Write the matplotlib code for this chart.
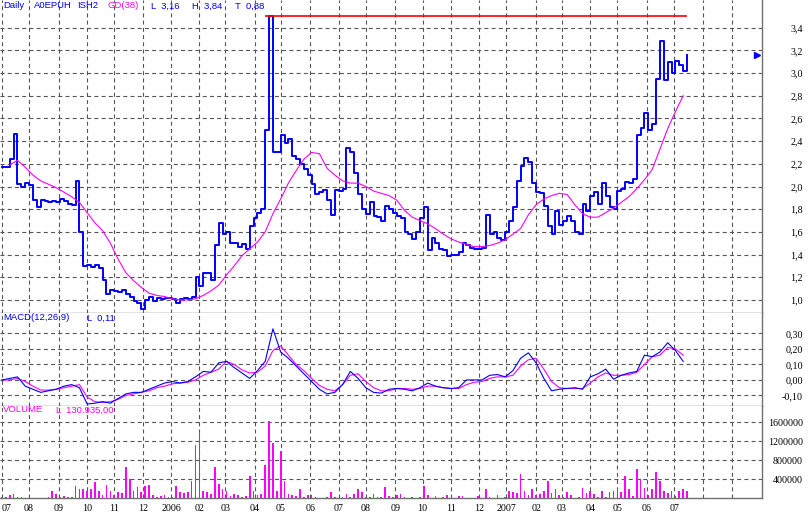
import numpy as np
import pandas as pd
import matplotlib
matplotlib.use("Agg")
import matplotlib.pyplot as plt
import matplotlib.transforms as mtransforms
from matplotlib.ticker import FuncFormatter

# ISH2 (A0EPUH), daily, Jul 2005 - Jul 2007
# close, one value every 3 trading days
price = [
    2.17, 2.17, 2.24, 2.46, 2.02, 2.00, 2.03, 2.01, 1.88, 1.82,
    1.88, 1.87, 1.86, 1.87, 1.86, 1.89, 1.87, 1.85, 1.84, 2.05,
    1.60, 1.30, 1.31, 1.29, 1.31, 1.28, 1.18, 1.05, 1.09, 1.08,
    1.07, 1.09, 1.05, 1.03, 0.99, 0.97, 0.92, 1.00, 1.03, 0.99,
    1.02, 1.01, 1.02, 1.02, 1.01, 0.97, 1.01, 1.02, 1.01, 1.03,
    1.20, 1.12, 1.24, 1.24, 1.18, 1.48, 1.68, 1.58, 1.60, 1.50,
    1.50, 1.47, 1.49, 1.45, 1.65, 1.72, 1.77, 1.80, 2.50, 3.50,
    2.30, 2.30, 2.45, 2.38, 2.42, 2.27, 2.24, 2.20, 2.15, 2.10,
    2.02, 1.93, 1.95, 1.97, 1.88, 1.75, 1.97, 1.96, 1.98, 2.34,
    2.30, 2.12, 1.93, 1.80, 1.76, 1.86, 1.74, 1.73, 1.70, 1.83,
    1.80, 1.77, 1.74, 1.72, 1.60, 1.58, 1.54, 1.60, 1.72, 1.82,
    1.44, 1.55, 1.50, 1.45, 1.44, 1.39, 1.40, 1.40, 1.42, 1.50,
    1.48, 1.46, 1.45, 1.45, 1.46, 1.75, 1.58, 1.60, 1.55, 1.53,
    1.60, 1.70, 1.82, 2.05, 2.18, 2.25, 2.22, 2.03, 1.95, 1.94,
    1.83, 1.65, 1.58, 1.78, 1.66, 1.70, 1.74, 1.70, 1.60, 1.58,
    1.85, 1.78, 1.92, 1.95, 1.85, 2.03, 1.92, 1.82, 1.80, 1.96,
    1.98, 2.04, 2.03, 2.07, 2.45, 2.52, 2.65, 2.50, 2.55, 2.95,
    3.28, 2.94, 3.10, 3.00, 3.11, 3.07, 3.02, 3.16,
]

# volume in thousands, same grid as price
volume_k = [
    20, 30, 60, 80, 20, 30, 10, 10, 10, 10,
    10, 10, 20, 140, 80, 15, 40, 20, 30, 250,
    180, 200, 150, 200, 330, 150, 60, 280, 150, 70,
    130, 110, 660, 400, 150, 230, 120, 250, 270, 60,
    20, 50, 70, 20, 20, 250, 120, 100, 130, 350,
    1120, 1380, 150, 130, 80, 650, 300, 200, 140, 50,
    80, 70, 20, 40, 470, 150, 60, 80, 700, 1620,
    1160, 150, 1000, 350, 80, 60, 40, 200, 20, 60,
    60, 20, 10, 10, 20, 120, 20, 10, 30, 80,
    30, 90, 200, 120, 30, 20, 90, 20, 20, 240,
    40, 20, 60, 80, 20, 10, 20, 10, 20, 250,
    60, 10, 40, 10, 20, 60, 10, 10, 40, 40,
    10, 10, 10, 40, 10, 200, 20, 10, 60, 10,
    30, 150, 120, 100, 510, 150, 60, 200, 60, 80,
    150, 360, 100, 200, 60, 20, 120, 60, 10, 20,
    210, 100, 150, 80, 20, 150, 20, 130, 150, 190,
    130, 460, 190, 40, 610, 400, 210, 60, 200, 550,
    350, 150, 100, 140, 40, 140, 200, 150,
]

# GD(38), one value every 6 trading days (starts one step in)
gd38 = [
    2.19, 2.23, 2.17, 2.10, 2.05, 2.02, 1.99, 1.95, 1.91, 1.86,
    1.77, 1.68, 1.61, 1.50, 1.36, 1.24, 1.17, 1.11, 1.06, 1.04,
    1.03, 1.01, 1.00, 1.00, 1.01, 1.04, 1.08, 1.13, 1.22, 1.30,
    1.39, 1.45, 1.51, 1.60, 1.76, 1.89, 2.03, 2.14, 2.24, 2.30,
    2.29, 2.16, 2.10, 2.05, 2.03, 2.03, 2.00, 1.96, 1.94, 1.92,
    1.88, 1.79, 1.73, 1.70, 1.67, 1.63, 1.58, 1.54, 1.51, 1.49,
    1.47, 1.47, 1.48, 1.50, 1.53, 1.58, 1.63, 1.75, 1.84, 1.89,
    1.92, 1.94, 1.93, 1.84, 1.76, 1.73, 1.73, 1.77, 1.81, 1.86,
    1.91, 1.98, 2.06, 2.15, 2.33, 2.51, 2.66, 2.80,
]

# MACD(12,26,9) and signal, every 6 trading days
macd = [
    0.00, 0.01, 0.02, -0.04, -0.06, -0.08, -0.07, -0.06, -0.04, -0.03,
    -0.05, -0.155, -0.15, -0.14, -0.15, -0.12, -0.09, -0.08, -0.08, -0.06,
    -0.04, -0.02, -0.01, -0.02, -0.01, 0.02, 0.055, 0.05, 0.11, 0.12,
    0.08, 0.045, 0.01, 0.06, 0.12, 0.33, 0.18, 0.14, 0.09, 0.04,
    -0.01, -0.06, -0.09, -0.08, -0.03, 0.055, 0.01, -0.05, -0.08, -0.085,
    -0.06, -0.055, -0.06, -0.07, -0.05, -0.02, -0.04, -0.05, -0.055, -0.05,
    0.00, 0.00, 0.00, 0.03, 0.035, 0.02, 0.06, 0.14, 0.175, 0.11,
    0.01, -0.07, -0.06, -0.055, -0.05, -0.06, 0.02, 0.04, 0.07, 0.005,
    0.03, 0.045, 0.055, 0.16, 0.15, 0.18, 0.24, 0.19, 0.12,
]
signal = [
    0.00, 0.00, 0.01, -0.01, -0.04, -0.065, -0.065, -0.06, -0.05, -0.04,
    -0.03, -0.11, -0.14, -0.145, -0.14, -0.125, -0.10, -0.09, -0.08, -0.07,
    -0.05, -0.04, -0.025, -0.02, -0.015, 0.00, 0.03, 0.05, 0.07, 0.12,
    0.10, 0.065, 0.045, 0.05, 0.09, 0.19, 0.22, 0.16, 0.10, 0.06,
    0.01, -0.035, -0.06, -0.07, -0.03, 0.03, 0.04, -0.01, -0.05, -0.07,
    -0.07, -0.055, -0.055, -0.06, -0.055, -0.04, -0.04, -0.05, -0.055, -0.055,
    -0.03, -0.015, -0.01, 0.01, 0.02, 0.02, 0.03, 0.09, 0.13, 0.14,
    0.07, -0.01, -0.05, -0.055, -0.055, -0.055, -0.02, 0.02, 0.045, 0.03,
    0.03, 0.035, 0.05, 0.10, 0.15, 0.16, 0.21, 0.20, 0.16,
]

resistance = 3.50
price_ticks = [1.0, 1.2, 1.4, 1.6, 1.8, 2.0, 2.2, 2.4, 2.6, 2.8, 3.0, 3.2, 3.4]
macd_ticks = [-0.10, 0.0, 0.10, 0.20, 0.30]
vol_ticks = [400000, 800000, 1200000, 1600000]

BLUE = "#0000FF"
MAG = "#FF00FF"
GRID = "#555555"
SPINE = "#707070"

days = pd.bdate_range("2005-07-01", "2007-09-28")
x_price = np.arange(len(price)) * 3
x_gd = (np.arange(len(gd38)) + 1) * 6
x_macd = np.arange(len(macd)) * 6
last_idx = x_price[-1]

month_pos = [i for i in range(len(days)) if i == 0 or days[i].month != days[i - 1].month]
month_lbl = []
for i in month_pos:
    d = days[i]
    if i > last_idx:
        month_lbl.append("")
    elif d.month == 1:
        month_lbl.append(str(d.year))
    else:
        month_lbl.append(f"{d.month:02d}")

W, H = 808, 516
fig = plt.figure(figsize=(W / 100, H / 100), dpi=100)
fig.patch.set_facecolor("white")


def panel(top, bottom):
    return fig.add_axes([0, 1 - bottom / H, 762 / W, (bottom - top) / H])


ax_p = panel(0, 313)
ax_m = panel(313, 406)
ax_v = panel(406, 498)

fmt_p = FuncFormatter(lambda v, _: f"{v:.1f}".replace(".", ","))
fmt_m = FuncFormatter(lambda v, _: f"{v:.2f}".replace(".", ","))
fmt_v = FuncFormatter(lambda v, _: f"{int(round(v))}")

for ax, ticks, fmt in [(ax_p, price_ticks, fmt_p), (ax_m, macd_ticks, fmt_m), (ax_v, vol_ticks, fmt_v)]:
    ax.set_xlim(-1.55, 589.1)
    ax.set_xticks(month_pos)
    ax.set_yticks(ticks)
    ax.yaxis.set_major_formatter(fmt)
    ax.yaxis.tick_right()
    ax.tick_params(axis="y", length=0, pad=29.5, labelsize=7.2, labelcolor="black")
    ax.tick_params(axis="x", length=0)
    for t in ax.get_yticklabels():
        t.set_horizontalalignment("right")
        t.set_family("Liberation Serif")
    ax.grid(True, color=GRID, linestyle=(0, (3.6, 2.9)), linewidth=0.8)
    ax.set_axisbelow(True)
    for s in ["left", "top"]:
        ax.spines[s].set_visible(False)
    for s in ["right", "bottom"]:
        ax.spines[s].set_color(SPINE)
        ax.spines[s].set_linewidth(1.0)
    ax.set_facecolor("white")

ax_p.set_ylim(0.885, 3.644)
ax_m.set_ylim(-0.168, 0.432)
ax_v.set_ylim(0, 1937000)

ax_p.set_xticklabels([])
ax_m.set_xticklabels([])
ax_v.set_xticklabels(month_lbl, fontsize=7.2, family="Liberation Serif")
ax_v.get_xticklabels()[0].set_horizontalalignment("left")
ax_v.tick_params(axis="x", pad=4)

# price panel
ax_p.step(x_price, price, where="post", color=BLUE, linewidth=1.4)
ax_p.plot(x_gd, gd38, color=MAG, linewidth=0.8)
ax_p.hlines(resistance, x_price[68], x_price[-1], color="#FF0000", linewidth=1.2)
trans = mtransforms.blended_transform_factory(ax_p.transAxes, ax_p.transData)
ax_p.plot([0.9935], [price[-1]], marker=">", markersize=5, color=BLUE,
          transform=trans, clip_on=False)

# macd panel
ax_m.plot(x_macd, signal, color=MAG, linewidth=0.8)
ax_m.plot(x_macd, macd, color=BLUE, linewidth=0.8)

# volume panel
ax_v.bar(x_price, np.array(volume_k) * 1000, width=1.3, color=MAG,
         linewidth=0, antialiased=False)

# header texts
hdr = dict(fontsize=6.8, family="Liberation Sans", va="center", ha="left")
for x, s, c in [(3, "Daily", BLUE), (34, "A0EPUH", BLUE), (77, "ISH2", BLUE),
                (107, "GD(38)", MAG), (151, "L  3,16", BLUE), (192, "H  3,84", BLUE),
                (235, "T  0,88", BLUE)]:
    fig.text(x / W, 1 - 6 / H, s, color=c, **hdr)
fig.text(3 / W, 1 - 318 / H, "MACD(12,26,9)", color=BLUE, **hdr)
fig.text(87 / W, 1 - 318 / H, "L  0,11", color=BLUE, **hdr)
fig.text(3 / W, 1 - 410 / H, "VOLUME", color=MAG, **hdr)
fig.text(56 / W, 1 - 410 / H, "L  130.935,00", color=MAG, **hdr)

fig.savefig("out.png", dpi=100)
